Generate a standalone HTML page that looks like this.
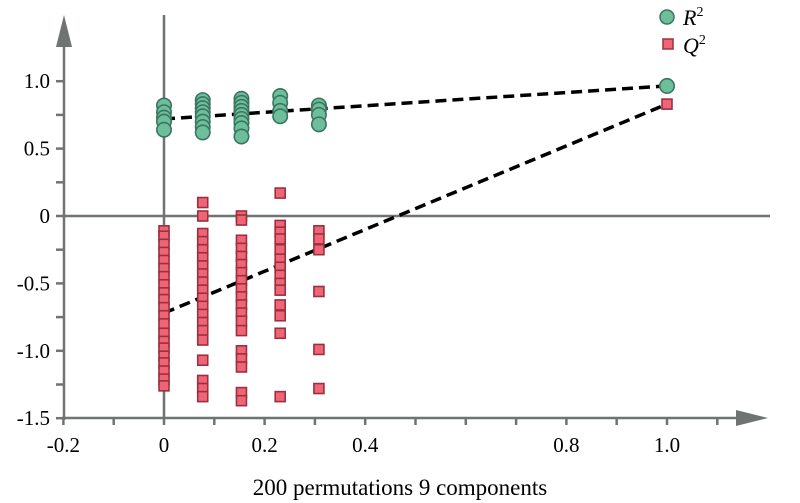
<!DOCTYPE html>
<html><head><meta charset="utf-8"><style>
html,body{margin:0;padding:0;background:#fff;}
svg{display:block;}
svg text{font-family:"Liberation Serif","Times New Roman",serif;font-size:21px;fill:#000;}
svg text.title{font-size:23px;}
svg text.leg{font-style:italic;font-size:22px;}
svg tspan.sup{font-style:normal;font-size:14px;}
</style></head><body>
<svg id="chart" width="800" height="503" viewBox="0 0 800 503">
<g id="axes"></g>
<g id="lines"></g>
<g id="marks"></g>
<g>
<circle cx="667" cy="17" r="7" fill="#6dbf9c" stroke="#3b7560" stroke-width="1.5"/>
<text class="leg" x="683" y="25">R<tspan class="sup" dy="-9">2</tspan></text>
<rect x="663" y="39" width="10" height="10" fill="#ef6575" stroke="#9a3040" stroke-width="1.5"/>
<text class="leg" x="683" y="53">Q<tspan class="sup" dy="-9">2</tspan></text>
</g>
<text class="title" x="400" y="495" text-anchor="middle">200 permutations 9 components</text>
</svg>
<script>
const xPermGroups = [0, 0.077, 0.154, 0.231, 0.308];
const r2Values = [
  [0.82, 0.77, 0.73, 0.70, 0.64],
  [0.86, 0.83, 0.80, 0.77, 0.74, 0.70, 0.66, 0.62],
  [0.87, 0.84, 0.81, 0.78, 0.75, 0.72, 0.69, 0.65, 0.59],
  [0.89, 0.84, 0.78, 0.74],
  [0.82, 0.79, 0.75, 0.68]
];
const q2Values = [
  [-0.11,-0.15,-0.21,-0.27,-0.33,-0.39,-0.45,-0.51,-0.57,-0.62,-0.68,-0.74,-0.80,-0.87,-0.93,-0.98,-1.04,-1.09,-1.15,-1.21,-1.26],
  [0.10,0.00,-0.13,-0.19,-0.25,-0.31,-0.37,-0.43,-0.49,-0.55,-0.61,-0.67,-0.73,-0.79,-0.85,-0.92,-1.07,-1.22,-1.28,-1.34],
  [0.00,-0.03,-0.18,-0.24,-0.30,-0.36,-0.42,-0.48,-0.54,-0.60,-0.66,-0.72,-0.78,-0.85,-1.00,-1.06,-1.12,-1.31,-1.37],
  [0.17,-0.07,-0.12,-0.17,-0.25,-0.32,-0.38,-0.44,-0.50,-0.55,-0.66,-0.74,-0.87,-1.34],
  [-0.11,-0.17,-0.25,-0.56,-0.99,-1.28]
];
const r2Real = 0.965;
const q2Real = 0.83;
const r2Intercept = 0.72;
const q2Intercept = -0.72;
const yTickValues = [1.0, 0.5, 0, -0.5, -1.0, -1.5];
const yTickLabels = ["1.0", "0.5", "0", "-0.5", "-1.0", "-1.5"];
const xTickValues = [-0.2, 0, 0.2, 0.4, 0.8, 1.0];
const xTickLabels = ["-0.2", "0", "0.2", "0.4", "0.8", "1.0"];

const NS = "http://www.w3.org/2000/svg";
const X = v => 164 + v * 503;
const Y = v => 216 - v * 134.8;
function mk(tag, attrs, parent) {
  const e = document.createElementNS(NS, tag);
  for (const k in attrs) e.setAttribute(k, attrs[k]);
  parent.appendChild(e);
  return e;
}
const axes = document.getElementById('axes');
const gray = "#6f7371";
let e = mk('line', {x1: X(0), y1: 15, x2: X(0), y2: 418, stroke: gray, 'stroke-width': 2.5}, axes);


e = mk('line', {x1: 64, y1: Y(0), x2: 770, y2: Y(0), stroke: gray, 'stroke-width': 2.5}, axes);


e = mk('line', {x1: 64, y1: 45, x2: 64, y2: 420, stroke: gray, 'stroke-width': 2.5}, axes);


e = mk('polygon', {points: '56,47 72,47 64,15', fill: gray}, axes);


e = mk('line', {x1: 62, y1: 418, x2: 740, y2: 418, stroke: gray, 'stroke-width': 2.5}, axes);


e = mk('polygon', {points: '736,410 736,426 768,418', fill: gray}, axes);


for (let v = -1.5; v <= 1.001; v += 0.25) {
  e = mk('line', {x1: 56, y1: Y(v), x2: 64, y2: Y(v), stroke: gray, 'stroke-width': 2.5}, axes);
  
  
}
yTickValues.forEach((v, i) => {
  e = mk('text', {x: 50, y: Y(v) + 7, 'text-anchor': 'end'}, axes);
  e.textContent = yTickLabels[i];
  
  
});
for (let v = -0.2; v <= 1.101; v += 0.1) {
  e = mk('line', {x1: X(v), y1: 418, x2: X(v), y2: 425, stroke: gray, 'stroke-width': 2.5}, axes);
  
  
}
xTickValues.forEach((v, i) => {
  e = mk('text', {x: X(v), y: 452, 'text-anchor': 'middle'}, axes);
  e.textContent = xTickLabels[i];
  
  
});
const lines = document.getElementById('lines');
e = mk('line', {x1: X(0), y1: Y(r2Intercept), x2: X(1), y2: Y(r2Real), stroke: '#000', 'stroke-width': 3.5, 'stroke-dasharray': '11,6'}, lines);


e = mk('line', {x1: X(0), y1: Y(q2Intercept), x2: X(1), y2: Y(q2Real), stroke: '#000', 'stroke-width': 3.5, 'stroke-dasharray': '11,6'}, lines);


const marks = document.getElementById('marks');
function sq(x, v) {
  const r = mk('rect', {x: X(x) - 5, y: Y(v) - 5, width: 10, height: 10, fill: '#ef6575', stroke: '#9a3040', 'stroke-width': 1.6}, marks);
  
  
}
function ci(x, v) {
  const c = mk('circle', {cx: X(x), cy: Y(v), r: 7.2, fill: '#6dbf9c', stroke: '#3b7560', 'stroke-width': 1.6}, marks);
  
  
}
xPermGroups.forEach((x, i) => { q2Values[i].forEach(v => sq(x, v)); });
sq(1, q2Real);
xPermGroups.forEach((x, i) => { r2Values[i].forEach(v => ci(x, v)); });
ci(1, r2Real);
</script>
</body></html>
